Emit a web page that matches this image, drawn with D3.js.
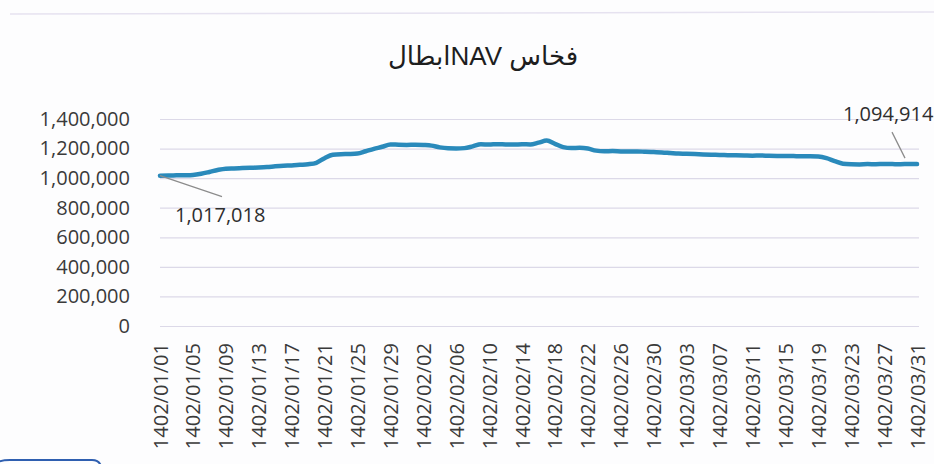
<!DOCTYPE html>
<html>
<head>
<meta charset="utf-8">
<title>NAV chart</title>
<style>
    body { margin: 0; background: #fdfdfe; }
    svg { display: block; }
</style>
</head>
<body>
<main></main>
<script src="https://cdn.jsdelivr.net/npm/d3@7/dist/d3.min.js"></script>
<script>
    // title (right-to-left)
    var title = "فخاس NAVابطال";

    // daily NAV, 1402/01/01 .. 1402/03/31 (93 days)
    var navValues = [
        1017018, 1018000, 1019000, 1020000, 1022000, 1030000, 1042000, 1055000, 1064000, 1066000,
        1068000, 1070000, 1072000, 1075000, 1080000, 1084000, 1086000, 1090000, 1094000, 1104000,
        1135000, 1158000, 1162000, 1163000, 1166000, 1182000, 1198000, 1212000, 1228000, 1226000,
        1225000, 1226000, 1224000, 1220000, 1208000, 1202000, 1201000, 1203000, 1215000, 1229000,
        1227000, 1230000, 1228000, 1227000, 1229000, 1228000, 1240000, 1254000, 1232000, 1210000,
        1204000, 1205000, 1200000, 1186000, 1182000, 1183000, 1181000, 1180000, 1181000, 1178000,
        1176000, 1174000, 1170000, 1166000, 1165000, 1163000, 1160000, 1158000, 1157000, 1155000,
        1154000, 1153000, 1152000, 1153000, 1151000, 1150000, 1150000, 1149000, 1148000, 1148000,
        1146000, 1135000, 1115000, 1098000, 1094000, 1093000, 1095000, 1094000, 1096000, 1095000,
        1094000, 1096000, 1094914
    ];

    // category dates (each of the three months has 31 days)
    var months = ["01", "02", "03"];
    var dates = [];
    months.forEach(function (m) {
        for (var d = 1; d <= 31; d++) {
            dates.push("1402/" + m + "/" + (d < 10 ? "0" + d : d));
        }
    });

    var xTickLabels = [
        "1402/01/01", "1402/01/05", "1402/01/09", "1402/01/13", "1402/01/17", "1402/01/21",
        "1402/01/25", "1402/01/29", "1402/02/02", "1402/02/06", "1402/02/10", "1402/02/14",
        "1402/02/18", "1402/02/22", "1402/02/26", "1402/02/30", "1402/03/03", "1402/03/07",
        "1402/03/11", "1402/03/15", "1402/03/19", "1402/03/23", "1402/03/27", "1402/03/31"
    ];
    var yTicks = [0, 200000, 400000, 600000, 800000, 1000000, 1200000, 1400000];

    // first and last point labels
    var labelIdx = [0, 92];

    var data = dates.map(function (d, i) { return {date: d, value: navValues[i]}; });

    var width = 934, height = 464;
    var plot = {left: 160, right: 917, top: 119, bottom: 326};

    var svg = d3.select("main").append("svg")
        .attr("width", width)
        .attr("height", height);

    // faint scan marks
    svg.append("line")
        .attr("x1", 10).attr("x2", width).attr("y1", 14).attr("y2", 12)
        .attr("stroke", "#e6e2f0").attr("stroke-width", 1.5);
    svg.append("path")
        .attr("d", "M-2,462 Q2,460 10,460 L92,460 Q99,460 101,466")
        .attr("fill", "none")
        .attr("stroke", "#2f5fb0").attr("stroke-width", 2);

    var x = d3.scalePoint().domain(dates).range([plot.left, plot.right]);
    var y = d3.scaleLinear().domain([0, 1400000]).range([plot.bottom, plot.top]);

    // y axis + gridlines
    var yAxis = svg.append("g")
        .attr("transform", "translate(" + plot.left + ",0)")
        .call(d3.axisLeft(y)
            .tickValues(yTicks)
            .tickFormat(d3.format(","))
            .tickSizeInner(-(plot.right - plot.left + 2))
            .tickSizeOuter(0)
            .tickPadding(30));
    yAxis.select(".domain").remove();
    yAxis.selectAll("line").attr("stroke", "#dcd9e8").attr("stroke-width", 1.2);
    yAxis.selectAll("text")
        .attr("fill", "#3a3a3a")
        .style("font-family", "'Open Sans', sans-serif")
        .style("font-size", "20px");

    // x axis, rotated labels
    var xAxis = svg.append("g")
        .attr("transform", "translate(0," + plot.bottom + ")")
        .call(d3.axisBottom(x).tickValues(xTickLabels).tickSize(0));
    xAxis.select(".domain").remove();
    xAxis.selectAll("text")
        .attr("transform", "rotate(-90)")
        .attr("text-anchor", "end")
        .attr("x", -17)
        .attr("y", 7)
        .attr("dy", 0)
        .attr("fill", "#3a3a3a")
        .style("font-family", "'Open Sans', sans-serif")
        .style("font-size", "20px");

    // line
    var line = d3.line()
        .x(function (d) { return x(d.date); })
        .y(function (d) { return y(d.value); })
        .curve(d3.curveMonotoneX);

    svg.append("path")
        .datum(data)
        .attr("fill", "none")
        .attr("stroke", "#2a8abb")
        .attr("stroke-width", 4.5)
        .attr("stroke-linejoin", "round")
        .attr("stroke-linecap", "round")
        .attr("d", line);

    // data labels with leader lines
    var labelOffsets = [
        {tx: 15, ty: 46, lx: 62, ly: 21, anchor: "start"},
        {tx: -74, ty: -43, lx: -25, ly: -32, ex: -12, ey: -6, anchor: "start"}
    ];
    labelIdx.forEach(function (idx, k) {
        var d = data[idx], o = labelOffsets[k];
        var px = x(d.date), py = y(d.value);
        svg.append("line")
            .attr("x1", px + (o.ex || 0)).attr("y1", py + (o.ey || 0))
            .attr("x2", px + o.lx).attr("y2", py + o.ly)
            .attr("stroke", "#8c8c8c").attr("stroke-width", 1.2);
        svg.append("text")
            .attr("x", px + o.tx)
            .attr("y", py + o.ty)
            .attr("text-anchor", o.anchor)
            .attr("fill", "#2e2e2e")
            .style("font-family", "'Open Sans', sans-serif")
            .style("font-size", "20px")
            .text(d3.format(",")(d.value));
    });

    // title, isolated as right-to-left text
    svg.append("text")
        .attr("x", 483)
        .attr("y", 65)
        .attr("text-anchor", "middle")
        .attr("fill", "#1e1e1e")
        .style("font-family", "'Liberation Sans', 'DejaVu Sans', sans-serif")
        .style("font-size", "26px")
        .text("\u2067" + title + "\u2069");
</script>
</body>
</html>
